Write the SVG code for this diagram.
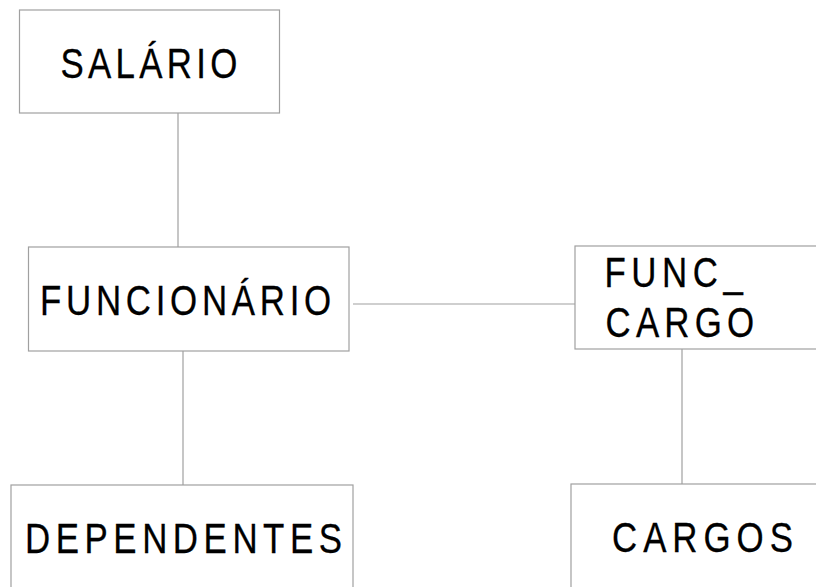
<svg xmlns="http://www.w3.org/2000/svg" width="816" height="587" viewBox="0 0 816 587">
<style>
.box{fill:#fff;stroke:#a0a0a0;stroke-width:1.2}
.ln{stroke:#a0a0a0;stroke-width:1.2;fill:none}
.t{font-family:"Liberation Sans",Arial,sans-serif;font-size:42px;fill:#000;stroke:#000;stroke-width:0.3}
</style>
<rect width="816" height="587" fill="#fff"/>
<g id="connectors">
<line class="ln" x1="178" y1="113" x2="178" y2="247"/>
<line class="ln" x1="353" y1="304" x2="577" y2="304"/>
<line class="ln" x1="183" y1="351" x2="183" y2="485"/>
<line class="ln" x1="682" y1="349" x2="682" y2="484"/>
</g>
<g id="salario">
<rect class="box" x="19.5" y="10" width="260" height="103"/>
<text class="t" transform="translate(60.5,78) scale(0.83,1)" letter-spacing="5.2">SALÁRIO</text>
</g>
<g id="funcionario">
<rect class="box" x="28.5" y="247" width="320.5" height="104"/>
<text class="t" transform="translate(40,315) scale(0.83,1)" letter-spacing="5.7">FUNCIONÁRIO</text>
</g>
<g id="func_cargo">
<rect class="box" x="575" y="246" width="260" height="103"/>
<text class="t" transform="translate(604.5,287) scale(0.83,1)" letter-spacing="6.7">FUNC_</text>
<text class="t" transform="translate(605.5,337) scale(0.83,1)" letter-spacing="6.3">CARGO</text>
</g>
<g id="dependentes">
<rect class="box" x="11" y="485" width="342" height="120"/>
<text class="t" transform="translate(25,553) scale(0.83,1)" letter-spacing="6.7">DEPENDENTES</text>
</g>
<g id="cargos">
<rect class="box" x="571" y="484" width="260" height="120"/>
<text class="t" transform="translate(612,552) scale(0.83,1)" letter-spacing="7.2">CARGOS</text>
</g>
</svg>
